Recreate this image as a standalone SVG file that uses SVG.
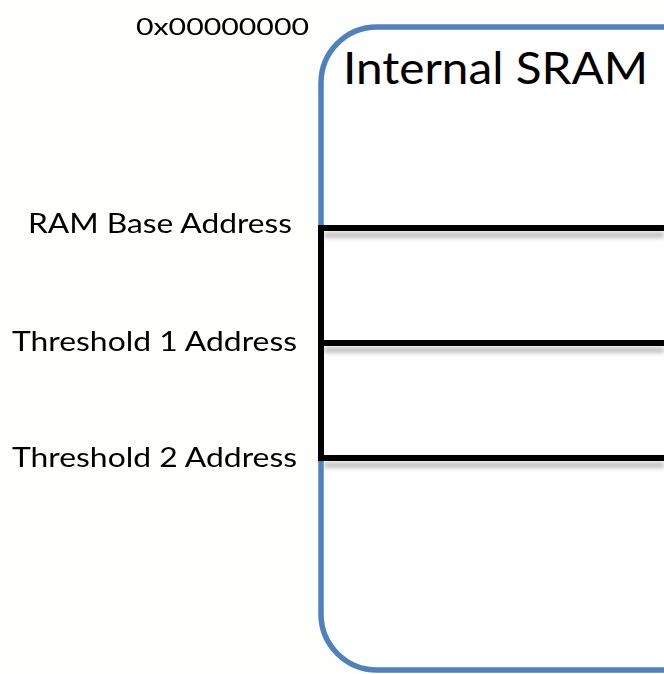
<svg xmlns="http://www.w3.org/2000/svg" width="664" height="674" viewBox="0 0 664 674">
<style>
.lbl{font-family:Lato,"Open Sans","Liberation Sans",sans-serif;fill:#000}
.reg{fill:none;stroke:#000;stroke-width:6}
.sh{fill:none;stroke:#999;stroke-width:6;opacity:0.6}
</style>
<defs>
<filter id="blur" x="-5%" y="-50%" width="110%" height="200%"><feGaussianBlur stdDeviation="2"/></filter>
</defs>
<rect width="664" height="674" fill="#FEFEFC"/>
<g id="sram">
<rect x="321" y="27" width="400" height="643" rx="56" ry="56" fill="#FFFFFF" stroke="#4F81BD" stroke-width="5.5"/>
<text class="lbl" x="343" y="84" font-size="45" textLength="305" lengthAdjust="spacingAndGlyphs">Internal SRAM</text>
</g>
<g id="regions">
<g filter="url(#blur)">
<line class="sh" x1="324" y1="235" x2="664" y2="235"/>
<line class="sh" x1="324" y1="350" x2="664" y2="350"/>
<line class="sh" x1="324" y1="465" x2="664" y2="465"/>
</g>
<path class="reg" d="M668,228 H321 V458 H668 M321,343 H668"/>
</g>
<g id="labels">
<text class="lbl" x="136" y="35" font-size="24" textLength="173" lengthAdjust="spacingAndGlyphs">0x00000000</text>
<text class="lbl" x="28" y="233" font-size="26" textLength="264" lengthAdjust="spacingAndGlyphs">RAM Base Address</text>
<text class="lbl" x="12" y="351" font-size="26" textLength="285" lengthAdjust="spacingAndGlyphs">Threshold 1 Address</text>
<text class="lbl" x="12" y="467" font-size="26" textLength="285" lengthAdjust="spacingAndGlyphs">Threshold 2 Address</text>
</g>
</svg>
